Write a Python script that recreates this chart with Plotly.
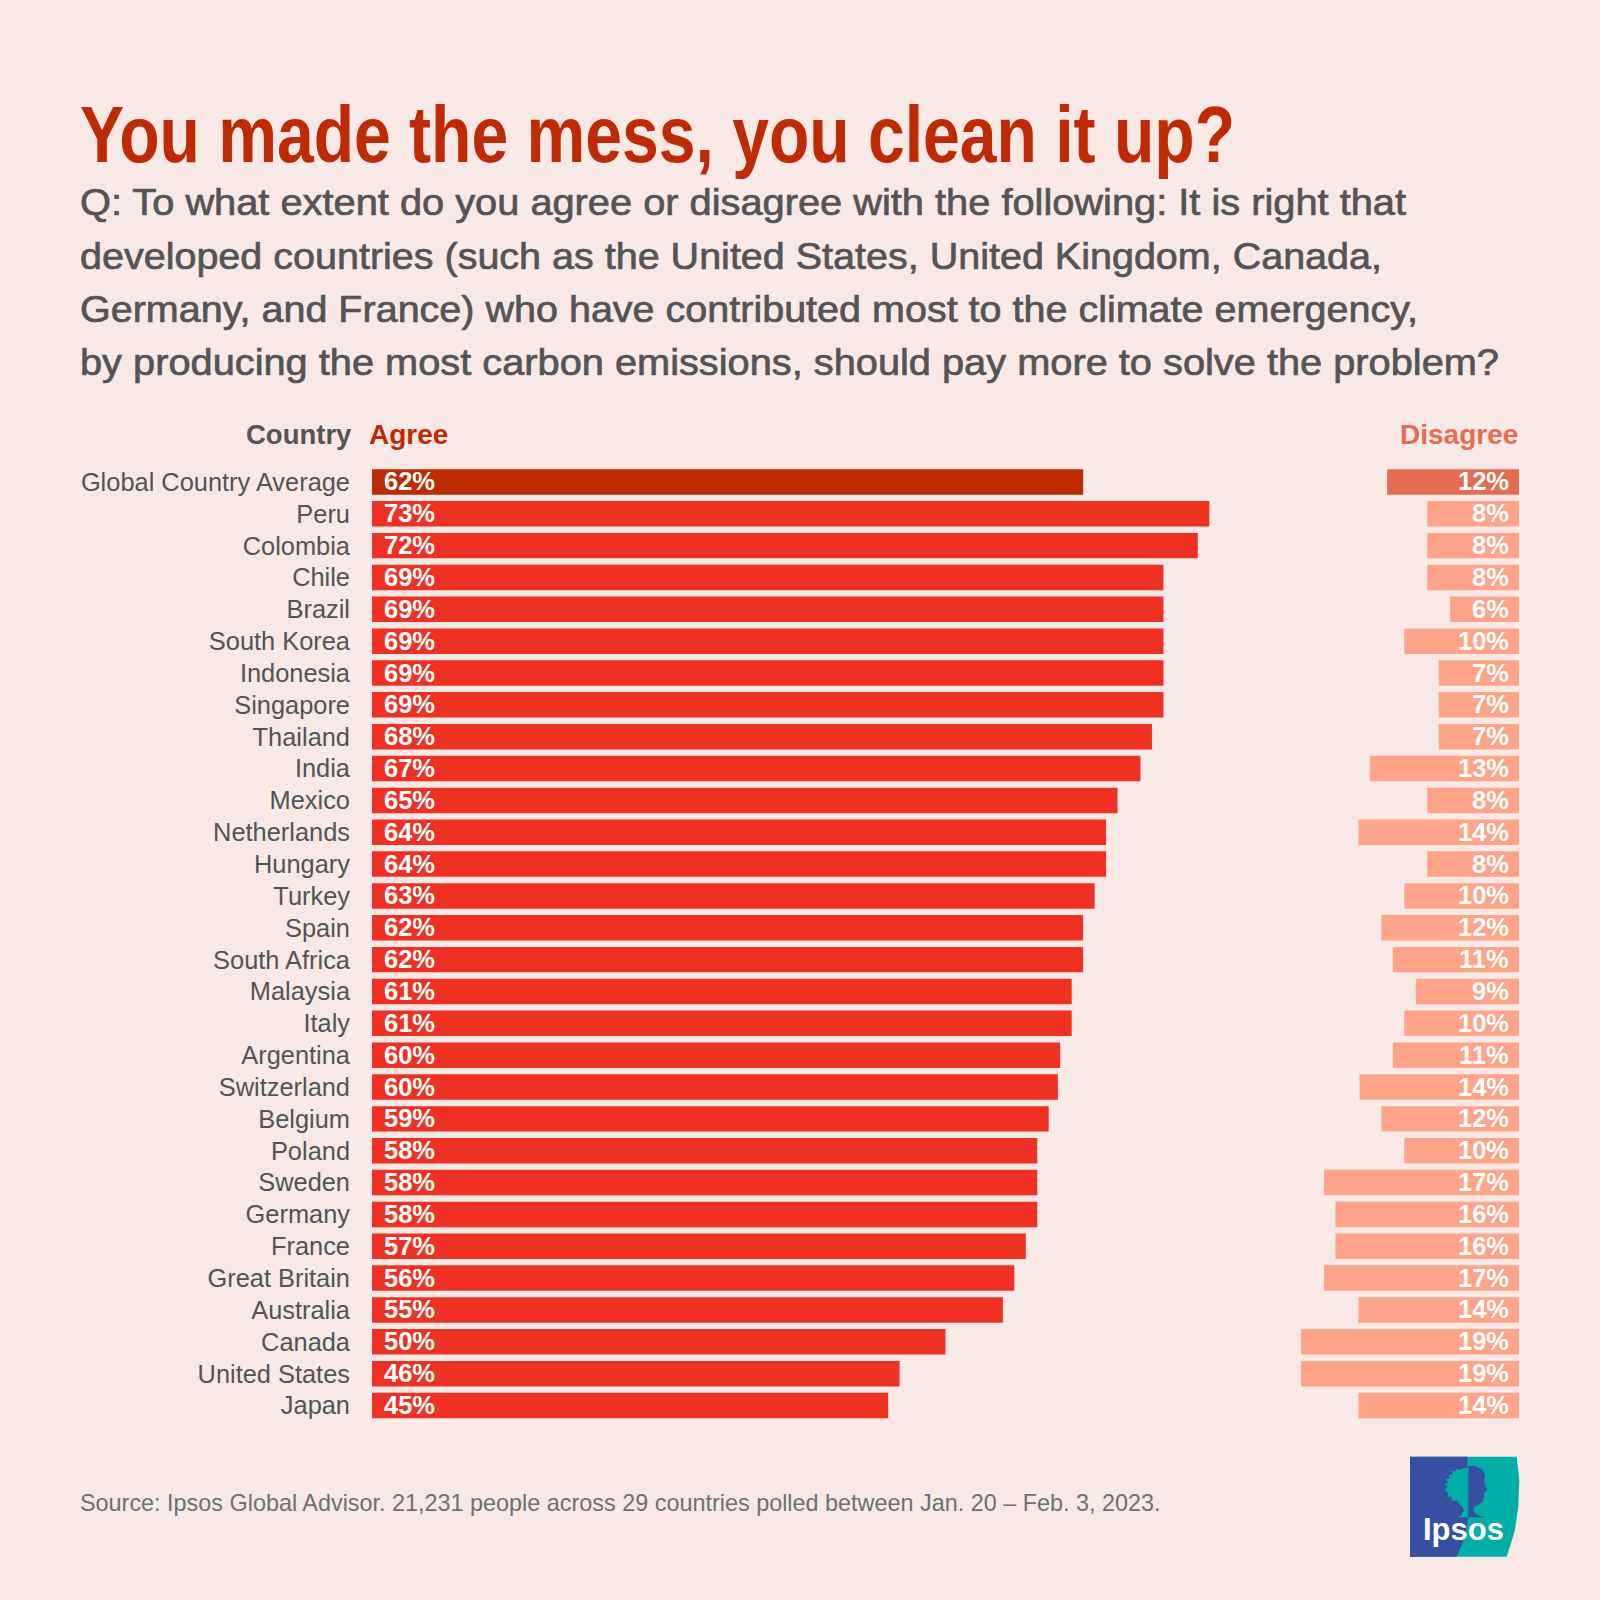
import json
import plotly.graph_objects as go

countries = ["Global Country Average","Peru","Colombia","Chile","Brazil","South Korea","Indonesia","Singapore","Thailand","India","Mexico","Netherlands","Hungary","Turkey","Spain","South Africa","Malaysia","Italy","Argentina","Switzerland","Belgium","Poland","Sweden","Germany","France","Great Britain","Australia","Canada","United States","Japan"]
agree = [62,73,72,69,69,69,69,69,68,67,65,64,64,63,62,62,61,61,60,59.8,59,58,58,58,57,56,55,50,46,45]
disagree = [11.5,8,8,8,6,10,7,7,7,13,8,14,8,10,12,11,9,10,11,13.9,12,10,17,16,16,17,14,19,19,14]
agree_labels = ["62%","73%","72%","69%","69%","69%","69%","69%","68%","67%","65%","64%","64%","63%","62%","62%","61%","61%","60%","60%","59%","58%","58%","58%","57%","56%","55%","50%","46%","45%"]
disagree_labels = ["12%","8%","8%","8%","6%","10%","7%","7%","7%","13%","8%","14%","8%","10%","12%","11%","9%","10%","11%","14%","12%","10%","17%","16%","16%","17%","14%","19%","19%","14%"]

TITLE = "You made the mess, you clean it up?"
SUB = ["Q: To what extent do you agree or disagree with the following: It is right that",
       "developed countries (such as the United States, United Kingdom, Canada,",
       "Germany, and France) who have contributed most to the climate emergency,",
       "by producing the most carbon emissions, should pay more to solve the problem?"]
SOURCE = "Source: Ipsos Global Advisor. 21,231 people across 29 countries polled between Jan. 20 – Feb. 3, 2023."

BG = "#F8E9E6"; RED = "#BE2A03"; BAR = "#EF3124"; GREY = "#545454"; SANS = "Liberation Sans"
W = 1600
def px(x): return x / W
def py(y): return 1 - y / W

PPU = 11.47
L1, R1 = 372, 1250
L2, R2 = 1260, 1519
TOP, BOT = 466, 1422

fig = go.Figure()
fig.add_bar(x=agree, y=countries, orientation="h", xaxis="x", yaxis="y",
            marker=dict(color=[RED] + [BAR] * 29, line=dict(width=0)), hoverinfo="skip", showlegend=False)
fig.add_bar(x=disagree, y=countries, orientation="h", xaxis="x2", yaxis="y2",
            marker=dict(color=["#E36C51"] + ["#FFA389"] * 29, line=dict(width=0)), hoverinfo="skip", showlegend=False)

ann = []
def text(x, y, s, size, color, anchor="left", weight=400):
    ann.append(dict(x=px(x), y=py(y), xref="paper", yref="paper", text=s, showarrow=False,
                    xanchor=anchor, yanchor="middle", align=anchor,
                    font=dict(size=size, color=color, family=SANS, weight=weight)))

for c, a, d in zip(countries, agree_labels, disagree_labels):
    ann.append(dict(x=0, y=c, xref="x", yref="y", text=a, showarrow=False, xanchor="left", xshift=10, yshift=0.5,
                    font=dict(size=25.5, color="white", family=SANS, weight=700)))
    ann.append(dict(x=0, y=c, xref="x2", yref="y2", text=d, showarrow=False, xanchor="right", xshift=-8, yshift=0.5,
                    font=dict(size=25.5, color="white", family=SANS, weight=700)))

text(77.5, 135, TITLE, 80, RED, weight=700)
for i, s in enumerate(SUB):
    text(77.5, 203 + i * 53, s, 37, GREY)
text(354, 435, "Country", 27.5, GREY, anchor="right", weight=700)
text(367, 435, "Agree", 28, RED, weight=700)
text(1520, 435, "Disagree", 28, "#E36C51", anchor="right", weight=700)
text(77.5, 1503, SOURCE, 23.4, "#707070")

def path(pts, color):
    d = "M " + " L ".join(f"{px(x):.5f},{py(y):.5f}" for x, y in pts) + " Z"
    return dict(type="path", xref="paper", yref="paper", path=d, fillcolor=color, line=dict(width=0), layer="above")
def zoomed(pts):
    return [(1400 + a / 3, 1450 + b / 3) for a, b in pts]

BLUE = "#364FA1"; TEAL = "#00ADA7"
shapes = [
    path(zoomed([(30,20),(350,20),(358,90),(355,170),(345,240),(320,320),(30,320)]), TEAL),
    path(zoomed([(30,20),(202,20),(205,202),(195,260),(170,320),(30,320)]), BLUE),
    path(zoomed([(205,55),(190,55),(175,60),(170,55),(165,65),(155,62),(158,72),(145,75),(150,85),(138,88),(144,98),
                 (133,102),(142,112),(134,122),(146,128),(140,140),(155,140),(155,152),(170,152),(178,163),(187,170),
                 (191,182),(185,195),(172,202),(205,202)]), TEAL),
    path(zoomed([(205,48),(225,47),(245,58),(255,75),(252,95),(262,120),(252,128),(252,140),(248,155),(235,165),
                 (222,170),(222,185),(230,195),(255,202),(205,202)]), BLUE),
]
ann.append(dict(x=px(1463), y=py(1529.5), xref="paper", yref="paper", text="Ipsos", showarrow=False,
                xanchor="center", yanchor="middle",
                font=dict(size=31, color="white", family=SANS, weight=700)))

fig.update_layout(
    width=1600, height=1600, margin=dict(l=0, r=0, t=0, b=0),
    paper_bgcolor=BG, plot_bgcolor="rgba(0,0,0,0)", bargap=0.2,
    annotations=ann, shapes=shapes, showlegend=False,
    xaxis=dict(domain=[px(L1), px(R1)], range=[0, (R1 - L1) / PPU], visible=False, fixedrange=True),
    xaxis2=dict(domain=[px(L2), px(R2)], range=[(R2 - L2) / PPU, 0], visible=False, fixedrange=True),
    yaxis=dict(domain=[py(BOT), py(TOP)], anchor="x", autorange="reversed", type="category",
               showgrid=False, zeroline=False, showline=False, ticks="", ticklabelstandoff=21,
               tickfont=dict(size=25.4, color=GREY, family=SANS)),
    yaxis2=dict(domain=[py(BOT), py(TOP)], anchor="x2", autorange="reversed", type="category",
                visible=False),
)

widths = {TITLE: 1155, SUB[0]: 1326, SUB[1]: 1302, SUB[2]: 1338, SUB[3]: 1419}
post = """
document.body.style.margin = '0';
document.documentElement.style.background = '%s';
var widths = %s;
var medium = %s;
document.querySelectorAll('.annotation-text').forEach(function (t) {
  var w = widths[t.textContent];
  if (w) { t.setAttribute('textLength', w); t.setAttribute('lengthAdjust', 'spacingAndGlyphs'); }
  if (medium.indexOf(t.textContent) >= 0) { t.style.stroke = '%s'; t.style.strokeWidth = '0.7px'; }
});
""" % (BG, json.dumps(widths), json.dumps(SUB), GREY)
fig.write_html("out.html", post_script=post, config={"displayModeBar": False})
